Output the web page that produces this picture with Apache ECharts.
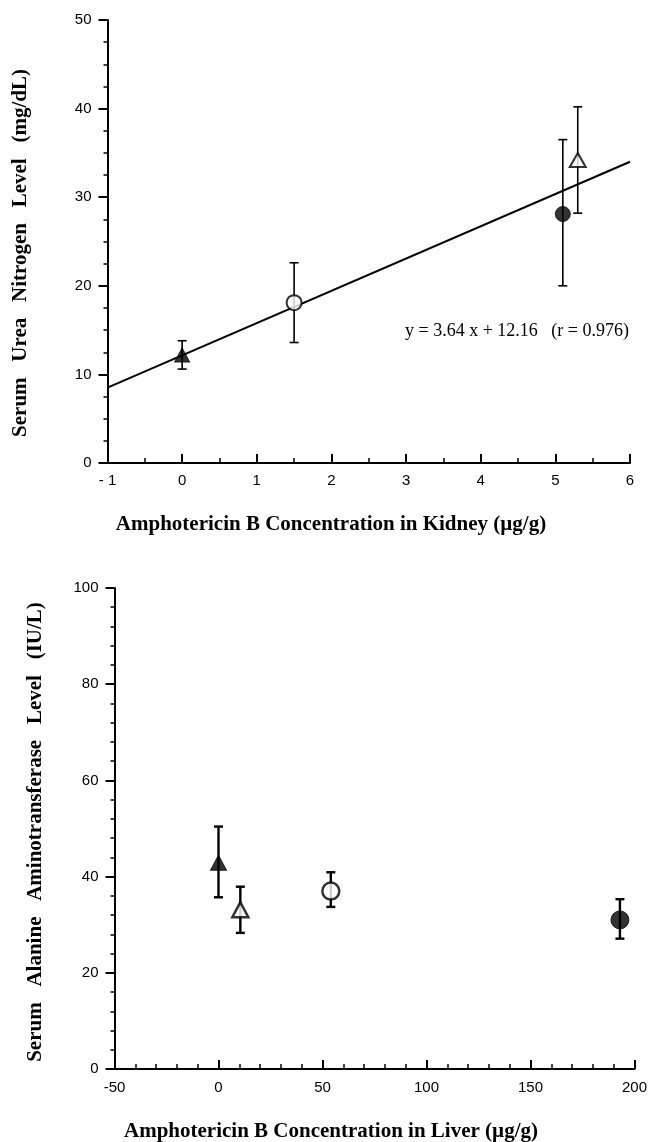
<!DOCTYPE html>
<html>
<head>
<meta charset="utf-8">
<script src="https://cdn.jsdelivr.net/npm/echarts@6/dist/echarts.min.js"></script>
<style>
html,body{margin:0;padding:0;background:#fff;}
#chart{width:650px;height:1142px;}
</style>
</head>
<body>
<div id="chart"></div>
<script>
// ---------- data ----------
// groups: filled triangle, open triangle, open circle, filled circle
var groupSymbols = ['triangle', 'triangle', 'circle', 'circle'];
var groupFilled  = [true, false, false, true];

// Top panel: kidney concentration vs BUN
var kidneyX  = [0, 5.3, 1.5, 5.1];
var bunMean  = [12.2, 34.2, 18.1, 28.1];
var bunLow   = [10.6, 28.2, 13.6, 20.0];
var bunHigh  = [13.8, 40.2, 22.6, 36.5];
var fitLine  = [[-1, 8.5], [6, 34.0]];
var fitText  = 'y = 3.64 x + 12.16   (r = 0.976)';

// Bottom panel: liver concentration vs ALT
var liverX   = [0, 10.5, 54, 193];
var altMean  = [42.9, 33.1, 37.0, 31.0];
var altLow   = [35.7, 28.3, 33.7, 27.1];
var altHigh  = [50.4, 37.9, 40.9, 35.3];

var topXTicks = {min: -1, max: 6, interval: 1};
var topYTicks = {min: 0, max: 50, interval: 10};
var botXTicks = {min: -50, max: 200, interval: 50};
var botYTicks = {min: 0, max: 100, interval: 20};

var topXTitle = 'Amphotericin B Concentration in Kidney (\u00b5g/g)';
var topYTitle = 'Serum   Urea   Nitrogen   Level   (mg/dL)';
var botXTitle = 'Amphotericin B Concentration in Liver (\u00b5g/g)';
var botYTitle = 'Serum   Alanine   Aminotransferase   Level   (IU/L)';

// ---------- chart ----------
var chart = echarts.init(document.getElementById('chart'), null, {renderer: 'canvas'});
var tickFont = {fontFamily: 'Liberation Sans, Arial, sans-serif', fontSize: 15, color: '#000'};
var serif = 'Liberation Serif, Times New Roman, serif';

function xAxis(idx, t, margin, fmt, minorSplit) {
  return {
    type: 'value', gridIndex: idx, min: t.min, max: t.max, interval: t.interval,
    axisLine: {show: true, onZero: false, lineStyle: {color: '#000', width: 2}},
    axisTick: {show: true, inside: true, length: 9, lineStyle: {color: '#000', width: 2}},
    minorTick: {show: true, splitNumber: minorSplit, length: 5, lineStyle: {color: '#000', width: 1.5}},
    splitLine: {show: false},
    axisLabel: Object.assign({margin: margin, formatter: fmt}, tickFont)
  };
}
function yAxis(idx, t, minorSplit) {
  return {
    type: 'value', gridIndex: idx, min: t.min, max: t.max, interval: t.interval,
    axisLine: {show: true, onZero: false, lineStyle: {color: '#000', width: 2}},
    axisTick: {show: true, inside: false, length: 9, lineStyle: {color: '#000', width: 2}},
    minorTick: {show: true, splitNumber: minorSplit, length: 4, lineStyle: {color: '#000', width: 1.5}},
    splitLine: {show: false},
    axisLabel: Object.assign({margin: 16}, tickFont)
  };
}

function errorSeries(idx, xs, lo, hi, lw, cap) {
  return {
    type: 'custom', xAxisIndex: idx, yAxisIndex: idx, z: 2,
    data: xs.map(function (x, i) { return [x, lo[i], hi[i]]; }),
    encode: {x: 0, y: [1, 2]},
    renderItem: function (params, api) {
      var x = api.value(0);
      var a = api.coord([x, api.value(2)]);
      var b = api.coord([x, api.value(1)]);
      var st = {stroke: '#000', lineWidth: lw};
      return {type: 'group', children: [
        {type: 'line', shape: {x1: a[0], y1: a[1], x2: b[0], y2: b[1]}, style: st},
        {type: 'line', shape: {x1: a[0] - cap, y1: a[1], x2: a[0] + cap, y2: a[1]}, style: st},
        {type: 'line', shape: {x1: b[0] - cap, y1: b[1], x2: b[0] + cap, y2: b[1]}, style: st}
      ]};
    }
  };
}

var series = [];
// regression line (top)
series.push({
  type: 'line', xAxisIndex: 0, yAxisIndex: 0, data: fitLine, symbol: 'none',
  lineStyle: {color: '#000', width: 2}, z: 1, silent: true
});
series.push(errorSeries(0, kidneyX, bunLow, bunHigh, 1.6, 4.5));
series.push(errorSeries(1, liverX, altLow, altHigh, 2.4, 4.5));

var topSizes = [[15, 14], [16, 14], 15, 15];
var botSizes = [[16, 15], [16, 15], 17, 18];
for (var g = 0; g < 4; g++) {
  var style = groupFilled[g]
    ? {color: '#000', borderColor: '#000', borderWidth: 1}
    : {color: '#fff', borderColor: '#000', borderWidth: 2};
  series.push({
    type: 'scatter', xAxisIndex: 0, yAxisIndex: 0, z: 5,
    symbol: groupSymbols[g], symbolSize: topSizes[g],
    data: [[kidneyX[g], bunMean[g]]], itemStyle: style
  });
  series.push({
    type: 'scatter', xAxisIndex: 1, yAxisIndex: 1, z: 5,
    symbol: groupSymbols[g], symbolSize: botSizes[g],
    data: [[liverX[g], altMean[g]]], itemStyle: Object.assign({}, style, groupFilled[g] ? {} : {borderWidth: 2.5})
  });
}

var titleStyle = {fontFamily: serif, fontWeight: 'bold', fontSize: 21, fill: '#000'};

chart.setOption({
  animation: false,
  backgroundColor: '#fff',
  grid: [
    {left: 107.5, top: 20, width: 522.5, height: 443},
    {left: 114.5, top: 588, width: 524.5, height: 481}
  ],
  xAxis: [
    xAxis(0, topXTicks, 10, function (v) { return v < 0 ? '- ' + Math.abs(v) : String(v); }, 2),
    xAxis(1, botXTicks, 11, function (v) { return String(v); }, 5)
  ],
  yAxis: [
    yAxis(0, topYTicks, 4),
    yAxis(1, botYTicks, 5)
  ],
  series: series,
  graphic: [
    {type: 'text', x: 405, y: 331,
     style: {text: fitText, fontFamily: serif, fontSize: 18, fill: '#000', align: 'left', verticalAlign: 'middle'}},
    {type: 'text', x: 331, y: 525,
     style: Object.assign({text: topXTitle, align: 'center', verticalAlign: 'middle'}, titleStyle)},
    {type: 'text', x: 331, y: 1132,
     style: Object.assign({text: botXTitle, align: 'center', verticalAlign: 'middle'}, titleStyle)},
    {type: 'text', x: 20.5, y: 253, rotation: Math.PI / 2,
     style: Object.assign({text: topYTitle, align: 'center', verticalAlign: 'middle'}, titleStyle)},
    {type: 'text', x: 36, y: 832, rotation: Math.PI / 2,
     style: Object.assign({text: botYTitle, align: 'center', verticalAlign: 'middle'}, titleStyle)}
  ]
});
</script>
</body>
</html>
